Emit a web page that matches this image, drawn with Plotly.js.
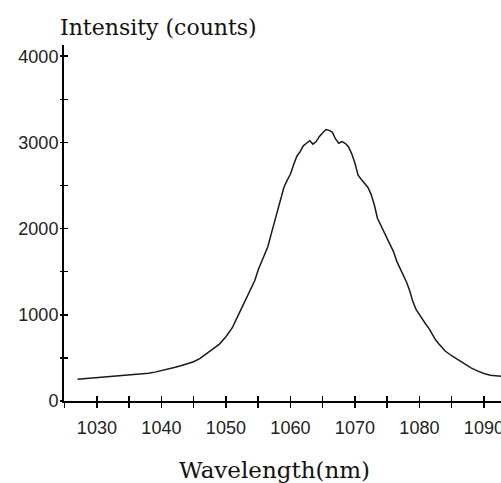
<!DOCTYPE html>
<html>
<head>
<meta charset="utf-8">
<script src="https://cdn.plot.ly/plotly-3.0.1.min.js"></script>
<style>html,body{margin:0;padding:0;background:#fff;overflow:hidden;width:501px;height:483px}</style>
</head>
<body>
<div id="chart" style="width:520px;height:483px"></div>
<script>
const wavelength = [1027,1028,1029,1030,1031,1032,1033,1034,1035,1036,1037,1038,1039,1040,1041,1042,1043,1044,1045,1046,1047,1048,1049,1050,1050.5,1051,1051.5,1052,1052.5,1053,1053.5,1054,1054.5,1055,1055.5,1056,1056.5,1057,1057.5,1058,1058.5,1059,1059.5,1060,1060.5,1061,1061.5,1062,1062.5,1063,1063.5,1064,1064.5,1065,1065.5,1066,1066.5,1067,1067.5,1068,1068.5,1069,1069.5,1070,1070.5,1071,1071.5,1072,1072.5,1073,1073.5,1074,1074.5,1075,1075.5,1076,1076.5,1077,1077.5,1078,1078.5,1079,1079.5,1080,1080.5,1081,1081.5,1082,1082.5,1083,1083.5,1084,1085,1086,1087,1088,1089,1090,1091,1092,1093];
const intensity = [252,258,263,270,274,280,285,290,296,302,310,322,335,350,370,388,408,430,455,495,550,605,660,745,800,850,930,1010,1100,1180,1255,1320,1400,1520,1610,1700,1790,1930,2060,2200,2350,2480,2560,2630,2740,2840,2890,2960,2990,3020,2980,3010,3070,3110,3150,3140,3120,3040,2990,3010,2990,2950,2870,2760,2620,2570,2530,2480,2400,2280,2120,2040,1980,1900,1820,1730,1620,1540,1470,1380,1280,1150,1060,1000,940,890,840,770,710,665,620,580,525,478,430,385,350,320,300,290,285];
const xTickVals = [1030,1040,1050,1060,1070,1080,1090];
const xTickText = ['1030','1040','1050','1060','1070','1080','1090'];
const yTickVals = [0,1000,2000,3000,4000];
const yTickText = ['0','1000','2000','3000','4000'];
const xRange = [1024.9, 1095.6];
const yRange = [0, 4130];

const tickFont = {family: 'Liberation Sans, Arial, sans-serif', size: 18, color: '#222'};
const titleFont = {family: 'DejaVu Serif, serif', size: 22, color: '#111'};

const traces = [
  {x: wavelength, y: intensity, type: 'scatter', mode: 'lines',
   line: {color: '#1a1a1a', width: 1.5}, hoverinfo: 'skip', showlegend: false},
  {x: wavelength, y: intensity, xaxis: 'x2', yaxis: 'y2', type: 'scatter', mode: 'lines',
   line: {color: 'rgba(0,0,0,0)', width: 0}, showlegend: false, hoverinfo: 'skip'}
];

const layout = {
  width: 520, height: 483,
  margin: {l: 64, r: 0, t: 45, b: 82},
  paper_bgcolor: '#fff', plot_bgcolor: '#fff',
  showlegend: false,
  xaxis: {range: xRange, showgrid: false, zeroline: false, showline: true, linecolor: '#000', linewidth: 2,
    tickmode: 'array', tickvals: xTickVals, ticktext: xTickText, ticks: 'outside', ticklen: 5, tickwidth: 1.5, tickcolor: '#000',
    minor: {dtick: 5, tick0: 1025, ticks: 'outside', ticklen: 5, tickwidth: 1.5, tickcolor: '#000', showgrid: false},
    ticklabelstandoff: 4, tickfont: tickFont, fixedrange: true},
  xaxis2: {range: xRange, overlaying: 'x', anchor: 'y2', side: 'bottom', showgrid: false, zeroline: false, showline: false,
    tickmode: 'linear', dtick: 5, tick0: 1025, ticks: 'inside', ticklen: 5, tickwidth: 1.5, tickcolor: '#000', showticklabels: false, fixedrange: true},
  yaxis: {range: yRange, showgrid: false, zeroline: false, showline: true, linecolor: '#000', linewidth: 2,
    tickmode: 'array', tickvals: yTickVals, ticktext: yTickText, ticks: 'inside', ticklen: 3.5, tickwidth: 1.5, tickcolor: '#000',
    minor: {dtick: 500, tick0: 0, ticks: 'inside', ticklen: 3.5, tickwidth: 1.5, tickcolor: '#000', showgrid: false},
    tickfont: tickFont, fixedrange: true},
  yaxis2: {range: yRange, overlaying: 'y', anchor: 'x2', side: 'left', showgrid: false, zeroline: false, showline: false,
    tickmode: 'linear', dtick: 500, tick0: 0, ticks: 'outside', ticklen: 3.5, tickwidth: 1.5, tickcolor: '#000', showticklabels: false, fixedrange: true},
  annotations: [
    {text: 'Intensity (counts)', xref: 'paper', yref: 'paper', x: 0, y: 1, xanchor: 'left', yanchor: 'middle',
     xshift: -6, yshift: 18, showarrow: false, font: titleFont},
    {text: 'Wavelength(nm)', xref: 'paper', yref: 'paper', x: (274 - 64) / 456, y: 0, xanchor: 'center', yanchor: 'middle',
     yshift: -69, showarrow: false, font: {family: 'DejaVu Serif, serif', size: 23, color: '#111'}}
  ]
};

Plotly.newPlot('chart', traces, layout, {displayModeBar: false, staticPlot: true});
</script>
</body>
</html>
